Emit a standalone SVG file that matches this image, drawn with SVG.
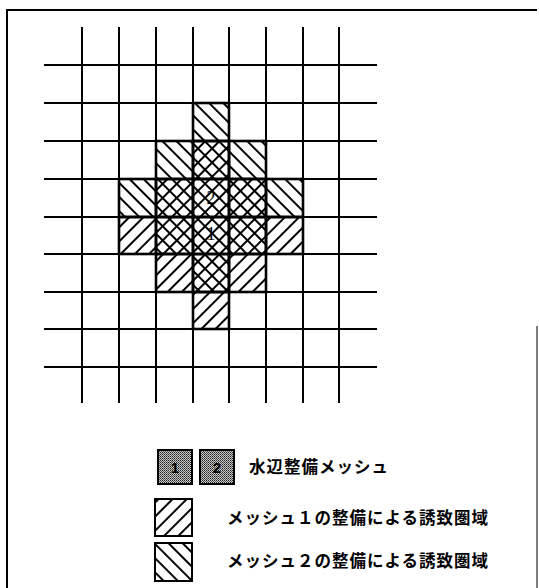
<svg xmlns="http://www.w3.org/2000/svg" width="539" height="588" viewBox="0 0 539 588">
<style>
.grid line{stroke:#000;stroke-width:2;}
.cell{stroke:#000;stroke-width:2.6;}
.lbl{font-family:"Noto Sans CJK JP","Noto Sans",sans-serif;font-weight:700;font-size:16.5px;fill:#000;}
.num{font-family:"Liberation Serif",serif;font-size:18px;fill:#000;}
.hl{stroke:#000;stroke-width:2;}
.key{stroke:#000;stroke-width:2;}
.dg{font-family:"Liberation Sans",sans-serif;font-weight:700;font-size:15px;fill:#000;}
</style>
<defs>
<pattern id="bs" patternUnits="userSpaceOnUse" width="10" height="10" patternTransform="rotate(-45)">
<line class="hl" x1="5" y1="-1" x2="5" y2="11"/>
</pattern>
<pattern id="fs" patternUnits="userSpaceOnUse" width="10" height="10" patternTransform="rotate(45)">
<line class="hl" x1="5" y1="-1" x2="5" y2="11"/>
</pattern>
<pattern id="dots" patternUnits="userSpaceOnUse" width="2" height="2">
<rect width="2" height="2" fill="#c8c8c8"/>
<rect width="1" height="1" fill="#222"/>
<rect x="1" y="1" width="1" height="1" fill="#555"/>
</pattern>
</defs>
<rect width="539" height="588" fill="#fff"/>
<g id="frame" stroke="#000" fill="none">
<line x1="7" y1="10" x2="537" y2="10" stroke-width="2"/>
<line x1="7" y1="9" x2="7" y2="588" stroke-width="2"/>
<line x1="537" y1="326" x2="537" y2="588" stroke-width="1.5" stroke="#555"/>
</g>
<g id="grid" class="grid">
<line x1="82" y1="27" x2="82" y2="403"/>
<line x1="119" y1="27" x2="119" y2="403"/>
<line x1="156" y1="27" x2="156" y2="403"/>
<line x1="193" y1="27" x2="193" y2="403"/>
<line x1="229" y1="27" x2="229" y2="403"/>
<line x1="266" y1="27" x2="266" y2="403"/>
<line x1="303" y1="27" x2="303" y2="403"/>
<line x1="339" y1="27" x2="339" y2="403"/>
<line x1="44" y1="65" x2="377" y2="65"/>
<line x1="44" y1="103" x2="377" y2="103"/>
<line x1="44" y1="141" x2="377" y2="141"/>
<line x1="44" y1="179" x2="377" y2="179"/>
<line x1="44" y1="217" x2="377" y2="217"/>
<line x1="44" y1="254" x2="377" y2="254"/>
<line x1="44" y1="292" x2="377" y2="292"/>
<line x1="44" y1="329" x2="377" y2="329"/>
<line x1="44" y1="367" x2="377" y2="367"/>
</g>
<g id="area2">
<rect class="cell" x="193" y="103" width="36" height="38" fill="url(#bs)"/>
<rect class="cell" x="156" y="141" width="37" height="38" fill="url(#bs)"/>
<rect class="cell" x="229" y="141" width="37" height="38" fill="url(#bs)"/>
<rect class="cell" x="119" y="179" width="37" height="38" fill="url(#bs)"/>
<rect class="cell" x="266" y="179" width="37" height="38" fill="url(#bs)"/>
</g>
<g id="area1">
<rect class="cell" x="119" y="217" width="37" height="37" fill="url(#fs)"/>
<rect class="cell" x="266" y="217" width="37" height="37" fill="url(#fs)"/>
<rect class="cell" x="156" y="254" width="37" height="38" fill="url(#fs)"/>
<rect class="cell" x="229" y="254" width="37" height="38" fill="url(#fs)"/>
<rect class="cell" x="193" y="292" width="36" height="37" fill="url(#fs)"/>
</g>
<g id="overlap">
<rect x="193" y="141" width="36" height="38" fill="url(#bs)"/>
<rect class="cell" x="193" y="141" width="36" height="38" fill="url(#fs)"/>
<rect x="156" y="179" width="110" height="75" fill="url(#bs)"/>
<rect x="156" y="179" width="110" height="75" fill="url(#fs)"/>
<rect class="cell" x="156" y="179" width="37" height="38" fill="none"/>
<rect class="cell" x="193" y="179" width="36" height="38" fill="none"/>
<rect class="cell" x="229" y="179" width="37" height="38" fill="none"/>
<rect class="cell" x="156" y="217" width="37" height="37" fill="none"/>
<rect class="cell" x="193" y="217" width="36" height="37" fill="none"/>
<rect class="cell" x="229" y="217" width="37" height="37" fill="none"/>
<rect x="193" y="254" width="36" height="38" fill="url(#bs)"/>
<rect class="cell" x="193" y="254" width="36" height="38" fill="url(#fs)"/>
</g>
<g id="mesh2"><text class="num" x="211" y="204" text-anchor="middle">2</text></g>
<g id="mesh1"><text class="num" x="211" y="240" text-anchor="middle">1</text></g>
<g id="legend-mesh">
<rect class="key" x="158" y="450" width="34" height="34" fill="url(#dots)"/>
<text class="dg" x="175" y="472.5" text-anchor="middle">1</text>
<rect class="key" x="200" y="450" width="34" height="34" fill="url(#dots)"/>
<text class="dg" x="217" y="472.5" text-anchor="middle">2</text>
<text class="lbl" x="249" y="473" textLength="139" lengthAdjust="spacing">水辺整備メッシュ</text>
</g>
<g id="legend-area1">
<rect class="key" x="155" y="499" width="37" height="37" fill="url(#fs)"/>
<text class="lbl" x="227" y="523.5" textLength="261" lengthAdjust="spacing">メッシュ１の整備による誘致圏域</text>
</g>
<g id="legend-area2">
<rect class="key" x="155" y="543" width="37" height="38" fill="url(#bs)"/>
<text class="lbl" x="227" y="566.5" textLength="261" lengthAdjust="spacing">メッシュ２の整備による誘致圏域</text>
</g>
</svg>
